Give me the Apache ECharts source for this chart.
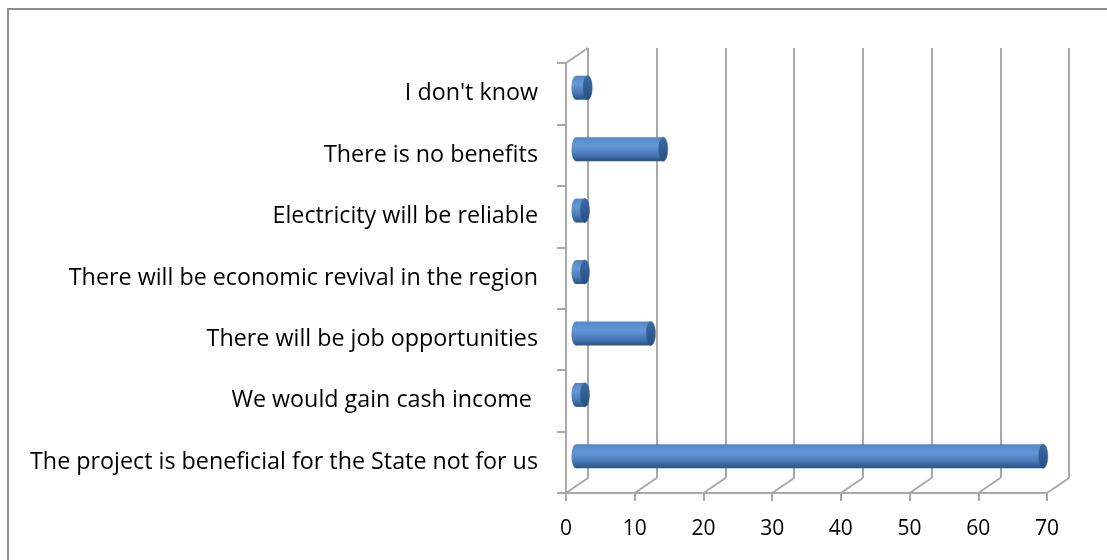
<!DOCTYPE html>
<html><head><meta charset="utf-8">
<script src="https://cdn.jsdelivr.net/npm/echarts@6/dist/echarts.min.js"></script>
<style>html,body{margin:0;padding:0;background:#fff}#c{width:1107px;height:560px}</style>
</head><body><div id="c"></div>
<script>
// categories listed bottom to top (ECharts category y axis starts at bottom)
const categories = [
  "The project is beneficial for the State not for us",
  "We would gain cash income ",
  "There will be job opportunities",
  "There will be economic revival in the region",
  "Electricity will be reliable",
  "There is no benefits",
  "I don't know"
];
const values = [68, 1.3, 10.9, 1.3, 1.3, 12.7, 1.7];
const xTicks = [0, 10, 20, 30, 40, 50, 60, 70];

const DX = 22, DY = -15;          // depth offset of the back wall
const MX = 10, MY = -6;           // offset of the bar mid-plane
const GRID = '#a8a8a8';
const FONT = 'Open Sans';

const chart = echarts.init(document.getElementById('c'), null, {renderer: 'canvas'});

function floorLines(params, api) {
  const v = api.value(0);
  const cs = params.coordSys;
  const x = api.coord([v, 0])[0];
  const yb = cs.y + cs.height;
  const children = [{
    type: 'line',
    shape: {x1: x, y1: yb, x2: x + DX, y2: yb + DY},
    style: {stroke: GRID, lineWidth: 2}
  }];
  if (v === 0) {
    children.push({
      type: 'line',
      shape: {x1: x, y1: cs.y, x2: x + DX, y2: cs.y + DY},
      style: {stroke: GRID, lineWidth: 2}
    });
  }
  return {type: 'group', children};
}

function cylinder(params, api) {
  const idx = api.value(0);
  const v = api.value(1);
  const p0 = api.coord([0, idx]);
  const p1 = api.coord([v, idx]);
  const h = 24, rx = 4.5;
  const x0 = p0[0] + MX, x1 = p1[0] + MX, yc = p0[1] + MY;
  const body = new echarts.graphic.LinearGradient(0, 0, 0, 1, [
    {offset: 0, color: '#5486c6'},
    {offset: 0.35, color: '#6598d8'},
    {offset: 0.7, color: '#4a7aba'},
    {offset: 1, color: '#2b5385'}
  ]);
  const cap = new echarts.graphic.LinearGradient(0, 0, 0, 1, [
    {offset: 0, color: '#3c6aa3'},
    {offset: 1, color: '#284f80'}
  ]);
  return {
    type: 'group',
    children: [
      {type: 'ellipse', shape: {cx: x0, cy: yc, rx: rx, ry: h / 2}, style: {fill: body}},
      {type: 'rect', shape: {x: x0, y: yc - h / 2, width: Math.max(x1 - x0, 0), height: h}, style: {fill: body}},
      {type: 'ellipse', shape: {cx: x1, cy: yc, rx: rx, ry: h / 2}, style: {fill: cap, stroke: '#2f5d94', lineWidth: 0.5}}
    ]
  };
}

const option = {
  animation: false,
  backgroundColor: '#fff',
  graphic: [{
    type: 'rect', silent: true, z: -10,
    shape: {x: 8, y: 9, width: 1200, height: 700},
    style: {fill: 'none', stroke: '#8c8c8c', lineWidth: 2}
  }],
  grid: [
    {left: 566, top: 63, width: 481, height: 430},
    {left: 566 + DX, top: 63 + DY, width: 481, height: 430}
  ],
  xAxis: [
    {
      gridIndex: 0, type: 'value', min: 0, max: 70, interval: 10,
      axisLine: {show: true, lineStyle: {color: GRID, width: 2}},
      axisTick: {show: true, length: 8, lineStyle: {color: GRID, width: 2}},
      axisLabel: {color: '#000', fontFamily: FONT, fontSize: 21, margin: 26},
      splitLine: {show: false}
    },
    {
      gridIndex: 1, type: 'value', min: 0, max: 70, interval: 10,
      axisLine: {show: false}, axisTick: {show: false}, axisLabel: {show: false},
      splitLine: {show: true, lineStyle: {color: GRID, width: 2}}
    }
  ],
  yAxis: [
    {
      gridIndex: 0, type: 'category', data: categories,
      axisLine: {show: true, lineStyle: {color: GRID, width: 2}},
      axisTick: {show: true, length: 9, interval: 0, lineStyle: {color: GRID, width: 2}},
      axisLabel: {color: '#000', fontFamily: FONT, fontSize: 23.3, margin: 28, interval: 0, padding: [8, 0, 0, 0]},
      splitLine: {show: false}
    },
    {
      gridIndex: 1, type: 'category', data: categories,
      axisLine: {show: false}, axisTick: {show: false}, axisLabel: {show: false},
      splitLine: {show: false}
    }
  ],
  series: [
    {
      type: 'custom', xAxisIndex: 0, yAxisIndex: 0, z: 1,
      data: xTicks.map(v => [v]),
      renderItem: floorLines, silent: true
    },
    {
      type: 'custom', xAxisIndex: 0, yAxisIndex: 0, z: 5,
      data: values.map((v, i) => [i, v]),
      encode: {x: 1, y: 0},
      renderItem: cylinder
    }
  ]
};
chart.setOption(option);
</script></body></html>
